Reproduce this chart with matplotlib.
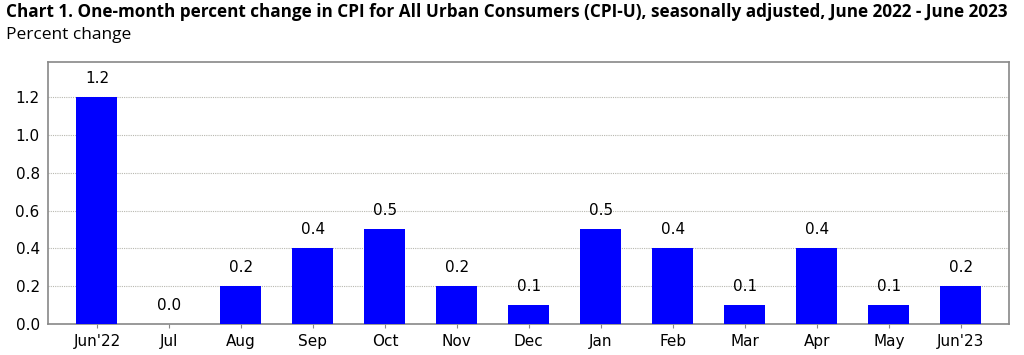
import matplotlib.pyplot as plt

# Data
months = ["Jun'22", "Jul", "Aug", "Sep", "Oct", "Nov", "Dec",
          "Jan", "Feb", "Mar", "Apr", "May", "Jun'23"]
pct_change = [1.2, 0.0, 0.2, 0.4, 0.5, 0.2, 0.1, 0.5, 0.4, 0.1, 0.4, 0.1, 0.2]
y_ticks = [0.0, 0.2, 0.4, 0.6, 0.8, 1.0, 1.2]

plt.rcParams['font.family'] = ['DejaVu Sans']

fig = plt.figure(figsize=(10.24, 3.55), dpi=100)
ax = fig.add_axes([48/1024, 1 - 324/355, 961/1024, 262/355])

x = range(len(months))
bars = ax.bar(x, pct_change, width=0.57, color="#0000ff", zorder=3)

for bar, v in zip(bars, pct_change):
    ax.text(bar.get_x() + bar.get_width() / 2, v + 0.06, f"{v:.1f}",
            ha="center", va="bottom", fontsize=11, color="black")

ax.set_xlim(-0.68, 12.67)
ax.set_ylim(0, 1.386)
ax.set_xticks(list(x))
ax.set_xticklabels(months, fontsize=11)
ax.set_yticks(y_ticks)
ax.set_yticklabels([f"{t:.1f}" for t in y_ticks], fontsize=11)
ax.grid(axis="y", color="#b8b8b0", linestyle=(0, (1, 1)), linewidth=0.8, zorder=0)
ax.tick_params(axis="x", length=3, color="#888888", pad=4)
ax.tick_params(axis="y", length=0, pad=6)
for s in ax.spines.values():
    s.set_color("#888888")
    s.set_linewidth(1.2)

fig.text(6/1024, 1 - 12/355, "Chart 1. One-month percent change in CPI for All Urban Consumers (CPI-U), seasonally adjusted, June 2022 - June 2023",
         fontsize=12.3, fontweight="bold", family="Open Sans", va="center", ha="left")
fig.text(6/1024, 1 - 35/355, "Percent change", fontsize=12.5, family="Open Sans", va="center", ha="left")

plt.savefig("out.png", dpi=100)
